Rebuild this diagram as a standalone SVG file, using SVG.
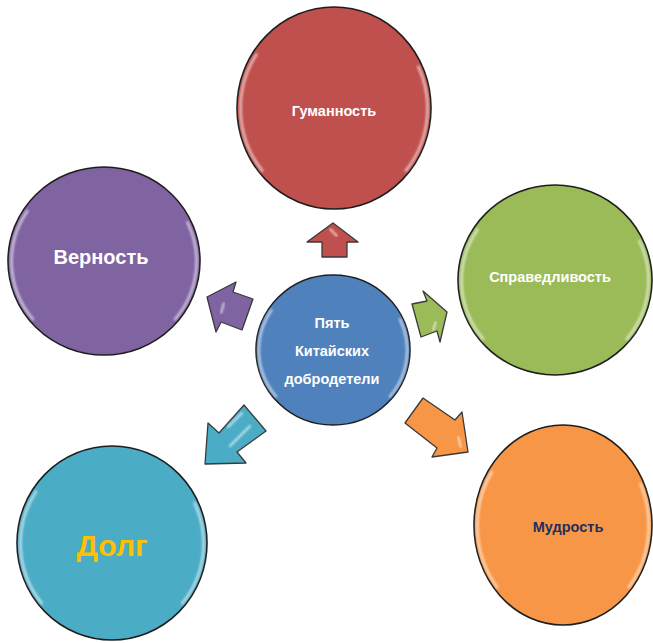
<svg xmlns="http://www.w3.org/2000/svg" xmlns:xlink="http://www.w3.org/1999/xlink" width="653" height="643" viewBox="0 0 653 643">
  <style>
    .circle { stroke: #1e1e1e; stroke-width: 1.6; }
    .hl { fill: none; stroke: #ffffff; stroke-width: 2.6; stroke-opacity: 0.6; stroke-linecap: round; }
    .arrow { stroke: #3a3a3a; stroke-width: 1.3; stroke-linejoin: round; }
    .ahl { fill: none; stroke: #ffffff; stroke-width: 2; stroke-opacity: 0.7; stroke-linecap: round; }
    .lbl { font-family: "Liberation Sans", Arial, sans-serif; font-weight: bold; text-anchor: middle; fill: #ffffff; }
  </style>
  <defs>
    <filter id="soft" x="-10%" y="-10%" width="120%" height="120%">
      <feGaussianBlur stdDeviation="0.9"/>
    </filter>
    <path id="rimhl" d="M -0.74 0.62 A 0.96 0.96 0 0 1 -0.80 -0.53 M 0.87 -0.41 A 0.96 0.96 0 0 1 0.74 0.62" vector-effect="non-scaling-stroke"/>
  </defs>
  <rect width="653" height="643" fill="#ffffff"/>

  <g id="connectors">
    <!-- up: red -->
    <polygon class="arrow" fill="#c0504d" points="333,223 358,242 347,242 347,257 322,257 322,242 307,242"/>
    <polyline class="ahl" points="330,229 337,236" filter="url(#soft)"/>
    <!-- up-left: purple -->
    <polygon class="arrow" fill="#8064a2" points="207,297 236,282 233,292 253,299 242,330 221,322 216,332"/>
    <polyline class="ahl" points="224,303 221,313" filter="url(#soft)"/>
    <!-- right: green -->
    <polygon class="arrow" fill="#9bbb59" points="412,304 427,301 423,291 447,312 440,342 437,331 421,337"/>
    <polyline class="ahl" points="436,322 433,330" filter="url(#soft)"/>
    <!-- down-left: teal -->
    <polygon class="arrow" fill="#4bacc6" points="205,464 208,423 219,433 244,405 266,431 237,452 246,463"/>
    <polyline class="ahl" points="228,427 242,413" filter="url(#soft)"/>
    <polyline class="ahl" points="230,446 250,426" filter="url(#soft)"/>
    <!-- down-right: orange -->
    <polygon class="arrow" fill="#f79646" points="423,398 455,420 462,412 468,452 432,457 437,448 405,423"/>
    <polyline class="ahl" points="458,437 461,447" filter="url(#soft)"/>
  </g>

  <g id="node-humanity">
    <ellipse class="circle" cx="334" cy="108" rx="97" ry="101" fill="#c0504d"/>
    <g filter="url(#soft)"><use xlink:href="#rimhl" class="hl" transform="translate(334 108) scale(97 101)"/></g>
    <text class="lbl" x="334" y="116" font-size="14.5">Гуманность</text>
  </g>

  <g id="node-center">
    <ellipse class="circle" cx="333" cy="350" rx="77" ry="75" fill="#4f81bd"/>
    <g filter="url(#soft)"><use xlink:href="#rimhl" class="hl" transform="translate(333 350) scale(77 75)"/></g>
    <text class="lbl" x="332" y="328" font-size="14.5">Пять</text>
    <text class="lbl" x="332" y="356" font-size="14.5">Китайских</text>
    <text class="lbl" x="332" y="384" font-size="14.5">добродетели</text>
  </g>

  <g id="node-loyalty">
    <ellipse class="circle" cx="104" cy="261" rx="96" ry="94" fill="#8064a2"/>
    <g filter="url(#soft)"><use xlink:href="#rimhl" class="hl" transform="translate(104 261) scale(96 94)"/></g>
    <text class="lbl" x="101" y="264" font-size="20">Верность</text>
  </g>

  <g id="node-justice">
    <ellipse class="circle" cx="555" cy="280" rx="97" ry="95" fill="#9bbb59"/>
    <g filter="url(#soft)"><use xlink:href="#rimhl" class="hl" transform="translate(555 280) scale(97 95)"/></g>
    <text class="lbl" x="550" y="282" font-size="14.5">Справедливость</text>
  </g>

  <g id="node-duty">
    <ellipse class="circle" cx="112" cy="543" rx="95" ry="97" fill="#4bacc6"/>
    <g filter="url(#soft)"><use xlink:href="#rimhl" class="hl" transform="translate(112 543) scale(95 97)"/></g>
    <text class="lbl" x="112" y="556" font-size="30" style="fill:#ffc000">Долг</text>
  </g>

  <g id="node-wisdom">
    <ellipse class="circle" cx="563" cy="525" rx="89" ry="100" fill="#f79646"/>
    <g filter="url(#soft)"><use xlink:href="#rimhl" class="hl" transform="translate(563 525) scale(89 100)"/></g>
    <text class="lbl" x="568" y="532" font-size="14.5" style="fill:#1f2f5f">Мудрость</text>
  </g>
</svg>
